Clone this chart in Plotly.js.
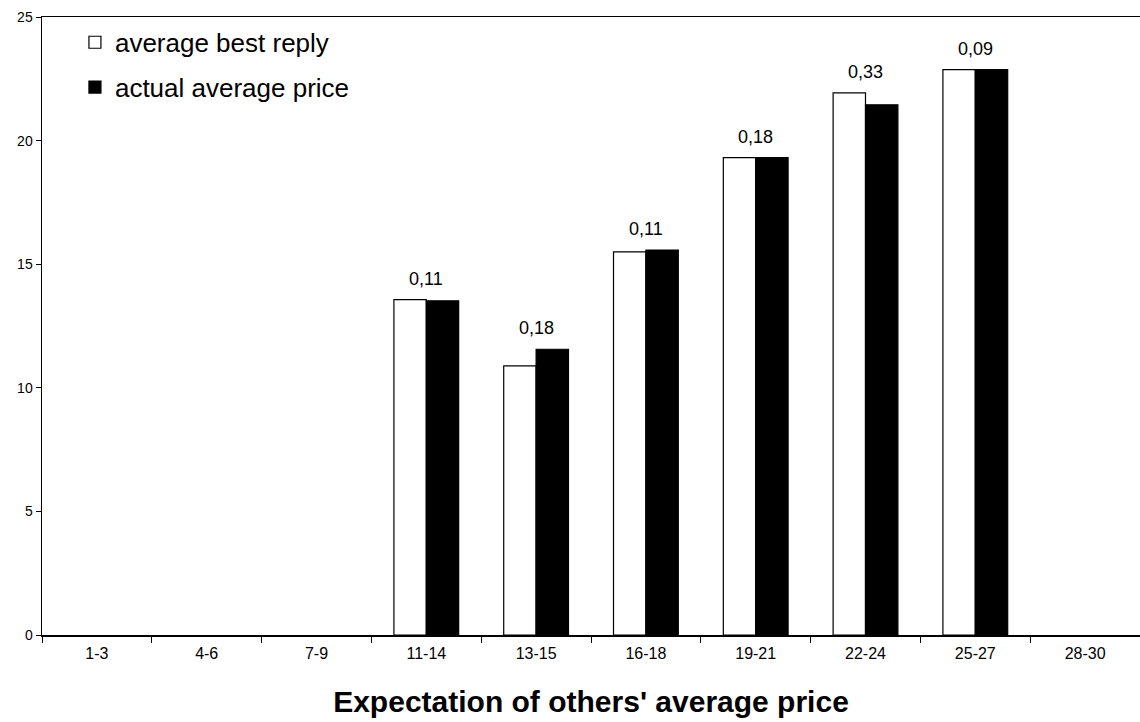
<!DOCTYPE html>
<html>
<head>
<meta charset="utf-8">
<script src="https://cdn.plot.ly/plotly-3.0.1.min.js"></script>
<style>html,body{margin:0;padding:0;background:#fff;}#chart{width:1140px;height:722px;}</style>
</head>
<body>
<div id="chart"></div>
<script>
const categories = ['1-3','4-6','7-9','11-14','13-15','16-18','19-21','22-24','25-27','28-30'];
const bestReply = [null,null,null,13.57,10.89,15.50,19.31,21.93,22.87,null];
const actualPrice = [null,null,null,13.52,11.56,15.57,19.31,21.45,22.87,null];
const shareLabels = ['','','','0,11','0,18','0,11','0,18','0,33','0,09',''];
const yTicks = [0,5,10,15,20,25];

const FONT = '"Liberation Sans"';

const traces = [
  {type:'bar', name:'average best reply', x:categories, y:bestReply,
   marker:{color:'#ffffff', line:{color:'#000000', width:1.2}}, legendgroup:'a', hoverinfo:'x+y'},
  {type:'bar', name:'actual average price', x:categories, y:actualPrice,
   marker:{color:'#000000', line:{color:'#000000', width:1.2}}, legendgroup:'b', hoverinfo:'x+y'}
];

const annotations = [];
categories.forEach((c,i)=>{
  if(!shareLabels[i]) return;
  const top = Math.max(bestReply[i]||0, actualPrice[i]||0);
  annotations.push({x:c, y:top, xref:'x', yref:'y', text:shareLabels[i], showarrow:false,
    yanchor:'bottom', yshift:9, font:{family:FONT, size:18, color:'#000'}});
});

const layout = {
  width:1140, height:722,
  margin:{l:42, r:0, t:17, b:87},
  paper_bgcolor:'#fff', plot_bgcolor:'#fff',
  font:{family:FONT, color:'#000'},
  barmode:'group', bargap:0.41, bargroupgap:0,
  showlegend:true,
  legend:{x:0.030, y:0.997, xanchor:'left', yanchor:'top', bgcolor:'rgba(0,0,0,0)',
    font:{family:FONT, size:26, color:'#000'}, traceorder:'grouped', tracegroupgap:8},
  xaxis:{type:'category', categoryarray:categories, categoryorder:'array',
    showline:true, linecolor:'#000', linewidth:1.5, mirror:true,
    ticks:'outside', tickson:'boundaries', ticklen:6, tickcolor:'#000', tickwidth:1,
    showgrid:false, zeroline:false, automargin:false,
    tickfont:{family:FONT, size:16, color:'#000'}, ticklabelstandoff:3,
    title:{text:"<b>Expectation of others' average price</b>", font:{family:FONT, size:30, color:'#000'}, standoff:30}},
  yaxis:{range:[0,25], tickvals:yTicks, showline:true, linecolor:'#000', linewidth:1.5,
    ticks:'outside', ticklen:5, tickcolor:'#000', tickwidth:1,
    showgrid:false, zeroline:false, automargin:false,
    tickfont:{family:FONT, size:14, color:'#000'}},
  annotations: annotations
};

Plotly.newPlot('chart', traces, layout, {displayModeBar:false, staticPlot:true});
</script>
</body>
</html>
